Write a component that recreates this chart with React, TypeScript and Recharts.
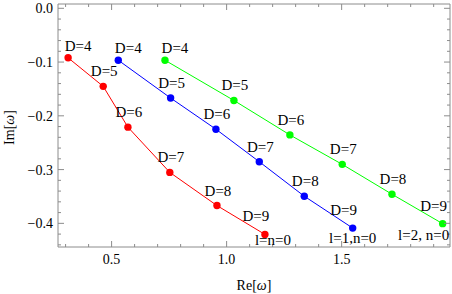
import React from 'react';
import { LineChart, Line, XAxis, YAxis, LabelList, Label } from 'recharts';

// Quasinormal frequencies for D = 4..9
const dims = [4, 5, 6, 7, 8, 9];

const reL0 = [0.311, 0.4635, 0.571, 0.753, 0.958, 1.1665];
const imL0 = [-0.0921, -0.1452, -0.2211, -0.3052, -0.3669, -0.4206];

const reL1 = [0.529, 0.7565, 0.9535, 1.142, 1.3375, 1.548];
const imL1 = [-0.0966, -0.1669, -0.2249, -0.2854, -0.3495, -0.4088];

const reL2 = [0.732, 1.0317, 1.275, 1.5026, 1.7187, 1.939];
const imL2 = [-0.0966, -0.1714, -0.2355, -0.2903, -0.3458, -0.4006];

const seriesNames = ['l=n=0', 'l=1,n=0', 'l=2, n=0'];

const xTicks = [0.3, 0.4, 0.5, 0.6, 0.7, 0.8, 0.9, 1.0, 1.1, 1.2, 1.3, 1.4, 1.5, 1.6, 1.7, 1.8, 1.9];
const yTicks = [
  0, -0.02, -0.04, -0.06, -0.08, -0.1, -0.12, -0.14, -0.16, -0.18, -0.2, -0.22,
  -0.24, -0.26, -0.28, -0.3, -0.32, -0.34, -0.36, -0.38, -0.4, -0.42, -0.44,
];

const build = (re: number[], im: number[]) =>
  dims.map((d, i) => ({ d, re: re[i], im: im[i] }));

const dataL0 = build(reL0, imL0);
const dataL1 = build(reL1, imL1);
const dataL2 = build(reL2, imL2);

const FRAME = '#8c8c8c';
const txt = { fontFamily: "'Liberation Serif', 'Times New Roman', serif", fill: '#000' };
const X_DOMAIN = [0.267, 1.971];
const Y_DOMAIN = [-0.444, 0.008];

const isMajorX = (v: number) => Math.abs(v * 2 - Math.round(v * 2)) < 1e-6;
const isMajorY = (v: number) => Math.abs(v * 10 - Math.round(v * 10)) < 1e-6;
const fmtY = (v: number) => (v < -1e-9 ? '\u2212' : '') + Math.abs(v).toFixed(1);

const BottomTick = (props: any) => {
  const { x, y, payload } = props;
  const major = isMajorX(payload.value);
  return (
    <g>
      <line x1={x} x2={x} y1={y} y2={y - (major ? 6 : 3)} stroke={FRAME} />
      {major && (
        <text x={x} y={y + 17} textAnchor="middle" fontSize={14} style={txt}>
          {payload.value.toFixed(1)}
        </text>
      )}
    </g>
  );
};

const TopTick = (props: any) => {
  const { x, y, payload } = props;
  const major = isMajorX(payload.value);
  return <line x1={x} x2={x} y1={y} y2={y + (major ? 6 : 3)} stroke={FRAME} />;
};

const LeftTick = (props: any) => {
  const { x, y, payload } = props;
  const major = isMajorY(payload.value);
  return (
    <g>
      <line x1={x} x2={x + (major ? 6 : 3)} y1={y} y2={y} stroke={FRAME} />
      {major && (
        <text x={x - 5} y={y + 5} textAnchor="end" fontSize={14} style={txt}>
          {fmtY(payload.value)}
        </text>
      )}
    </g>
  );
};

const RightTick = (props: any) => {
  const { x, y, payload } = props;
  const major = isMajorY(payload.value);
  return <line x1={x} x2={x - (major ? 6 : 3)} y1={y} y2={y} stroke={FRAME} />;
};

// where each "D=n" tag sits relative to its point
const labelOffset = (d: number) => {
  if (d === 4) return { dx: 10, dy: -12 };
  if (d === 9) return { dx: -9, dy: -18 };
  return { dx: 1, dy: -15 };
};

const nameOffsets = [
  { dx: 8, dy: 6 },
  { dx: 0, dy: 10 },
  { dx: -19, dy: 11 },
];

const makeLabel = (series: number) => (props: any) => {
  const x = props.x ?? props.viewBox?.x;
  const y = props.y ?? props.viewBox?.y;
  const { value, index } = props;
  if (x == null || y == null) return null;
  const off = labelOffset(value);
  const last = index === dims.length - 1;
  const n = nameOffsets[series];
  return (
    <g>
      <text x={x + off.dx} y={y + off.dy + 5} textAnchor="middle" fontSize={15} style={txt}>
        {`D=${value}`}
      </text>
      {last && (
        <text x={x + n.dx} y={y + n.dy + 5} textAnchor="middle" fontSize={15} style={txt}>
          {seriesNames[series]}
        </text>
      )}
    </g>
  );
};

const XTitle = (props: any) => {
  const { x, y, width } = props.viewBox;
  return (
    <text x={x + width / 2} y={y + 43} textAnchor="middle" fontSize={14} style={txt}>
      Re[<tspan fontStyle="italic">ω</tspan>]
    </text>
  );
};

const YTitle = (props: any) => {
  const { y, height } = props.viewBox;
  const cx = 14;
  const cy = y + height / 2 + 2;
  return (
    <text
      x={cx}
      y={cy}
      transform={`rotate(-90, ${cx}, ${cy})`}
      textAnchor="middle"
      fontSize={14}
      style={txt}
    >
      Im[<tspan fontStyle="italic">ω</tspan>]
    </text>
  );
};

const series = [
  { data: dataL0, color: '#ff0000' },
  { data: dataL1, color: '#0000ff' },
  { data: dataL2, color: '#00ff00' },
];

export default function App() {
  return (
    <div style={{ width: 452, height: 294, background: '#fff' }}>
      <style>{'body{margin:0}'}</style>
      <LineChart width={452} height={294} margin={{ top: 0, right: 0, bottom: 0, left: 0 }}>
        <XAxis
          dataKey="re"
          type="number"
          domain={X_DOMAIN}
          allowDataOverflow
          ticks={xTicks}
          interval={0}
          height={47}
          tickSize={0}
          tickMargin={0}
          axisLine={{ stroke: FRAME }}
          tickLine={false}
          tick={<BottomTick />}
        >
          <Label content={<XTitle />} />
        </XAxis>
        <XAxis
          xAxisId="top"
          orientation="top"
          dataKey="re"
          type="number"
          domain={X_DOMAIN}
          allowDataOverflow
          ticks={xTicks}
          interval={0}
          height={4}
          tickSize={0}
          tickMargin={0}
          axisLine={{ stroke: FRAME }}
          tickLine={false}
          tick={<TopTick />}
        />
        <YAxis
          dataKey="im"
          type="number"
          domain={Y_DOMAIN}
          allowDataOverflow
          ticks={yTicks}
          interval={0}
          width={58}
          tickSize={0}
          tickMargin={0}
          axisLine={{ stroke: FRAME }}
          tickLine={false}
          tick={<LeftTick />}
        >
          <Label content={<YTitle />} />
        </YAxis>
        <YAxis
          yAxisId="right"
          orientation="right"
          dataKey="im"
          type="number"
          domain={Y_DOMAIN}
          allowDataOverflow
          ticks={yTicks}
          interval={0}
          width={2}
          tickSize={0}
          tickMargin={0}
          axisLine={{ stroke: FRAME }}
          tickLine={false}
          tick={<RightTick />}
        />
        {series.map((s, i) => (
          <Line
            key={i}
            data={s.data}
            dataKey="im"
            type="linear"
            stroke={s.color}
            strokeWidth={1}
            dot={{ r: 3.7, fill: s.color, stroke: 'none' }}
            activeDot={false}
            isAnimationActive={false}
          >
            <LabelList dataKey="d" content={makeLabel(i)} />
          </Line>
        ))}
      </LineChart>
    </div>
  );
}
